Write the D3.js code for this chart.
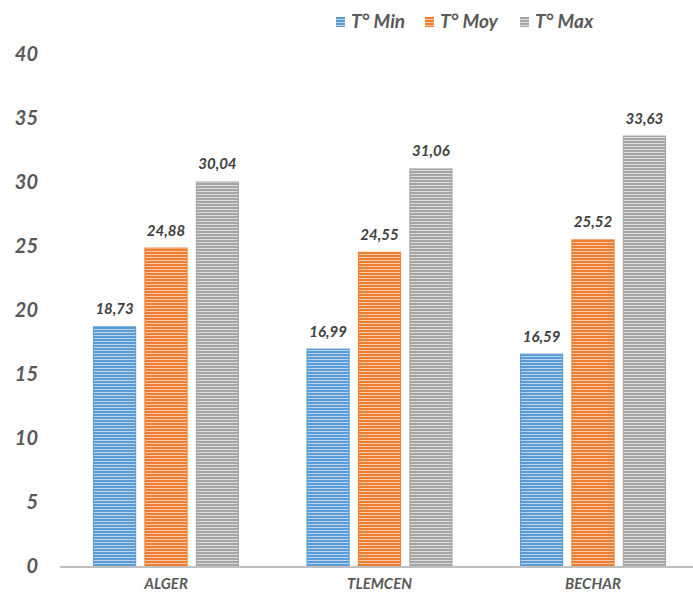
<!DOCTYPE html>
<html><head><meta charset="utf-8">
<script src="https://cdn.jsdelivr.net/npm/d3@7/dist/d3.min.js"></script>
<style>body{margin:0;background:#fff}svg{display:block}</style>
</head><body><svg id="c" width="693" height="594"></svg>
<script>
const categories = ["ALGER", "TLEMCEN", "BECHAR"];
const seriesNames = ["T° Min", "T° Moy", "T° Max"];
const tMin = [18.73, 16.99, 16.59];
const tMoy = [24.88, 24.55, 25.52];
const tMax = [30.04, 31.06, 33.63];
const yTicks = [0, 5, 10, 15, 20, 25, 30, 35, 40];

const seriesValues = [tMin, tMoy, tMax];
const colors = ["#5b9bd5", "#ed7d31", "#a5a5a5"];
const lights = ["#bcd6ee", "#f8c9a8", "#dcdcdc"];
const font = "Lato, 'Open Sans', sans-serif";

const svg = d3.select("#c");
const defs = svg.append("defs");
colors.forEach((c, i) => {
  const p = defs.append("pattern").attr("id", "pat" + i)
    .attr("patternUnits", "userSpaceOnUse").attr("width", 6).attr("height", 3);
  p.append("rect").attr("width", 6).attr("height", 3).attr("fill", c);
  p.append("rect").attr("y", 2).attr("width", 6).attr("height", 1).attr("fill", lights[i]);
});

const y = d3.scaleLinear().domain([0, 40]).range([566, 54]);
const x0 = d3.scaleBand().domain(categories).range([59.25, 699.75]).paddingInner(0.316).paddingOuter(0.158);
const x1 = d3.scaleBand().domain(seriesNames).range([0, x0.bandwidth()]).paddingInner(0.16);

// y axis labels
const yAxis = d3.axisLeft(y).tickValues(yTicks).tickSize(0).tickPadding(0).tickFormat(d3.format("d"));
const gy = svg.append("g").attr("transform", "translate(38,0)").call(yAxis);
gy.select(".domain").remove();
gy.selectAll("text").attr("font-family", font).attr("font-size", 20)
  .attr("font-weight", "bold").attr("font-style", "italic").attr("fill", "#595959");

// bars
const groups = svg.append("g").selectAll("g").data(categories).join("g")
  .attr("transform", d => `translate(${x0(d)},0)`);
groups.selectAll("rect").data((d, ci) => seriesNames.map((s, si) => ({s, si, v: seriesValues[si][ci]})))
  .join("rect")
  .attr("x", d => x1(d.s) + 0.5).attr("width", x1.bandwidth() - 1)
  .attr("y", d => y(d.v) + 0.5).attr("height", d => y(0) - y(d.v) - 0.5)
  .attr("fill", d => `url(#pat${d.si})`).attr("stroke", d => colors[d.si]).attr("stroke-width", 1);
groups.selectAll("text").data((d, ci) => seriesNames.map((s, si) => ({s, si, v: seriesValues[si][ci]})))
  .join("text")
  .attr("x", d => x1(d.s) + x1.bandwidth() / 2).attr("y", d => y(d.v) - 12)
  .attr("text-anchor", "middle").attr("font-family", font).attr("font-size", 15)
  .attr("font-weight", "bold").attr("font-style", "italic").attr("fill", "#404040")
  .text(d => d3.format(".2f")(d.v).replace(".", ","));

// x axis
const xAxis = d3.axisBottom(x0).tickSize(0).tickPadding(0);
const gx = svg.append("g").attr("transform", "translate(0,567)").call(xAxis);
gx.select(".domain").remove();
gx.append("line").attr("x1", 60).attr("x2", 693).attr("y1", 0).attr("y2", 0)
  .attr("stroke", "#bfbfbf").attr("stroke-width", 2);
gx.selectAll(".tick text").attr("y", 22).attr("dy", 0).attr("font-family", font).attr("font-size", 15)
  .attr("font-weight", "bold").attr("font-style", "italic").attr("fill", "#595959");

// legend
const legX = [336, 425, 520];
const leg = svg.append("g").selectAll("g").data(seriesNames).join("g")
  .attr("transform", (d, i) => `translate(${legX[i]},17)`);
leg.append("rect").attr("width", 9).attr("height", 10).attr("fill", (d, i) => `url(#pat${i})`);
leg.append("text").attr("x", 15).attr("y", 11).attr("font-family", font).attr("font-size", 19)
  .attr("font-weight", "bold").attr("font-style", "italic").attr("fill", "#595959").text(d => d);
</script></body></html>
